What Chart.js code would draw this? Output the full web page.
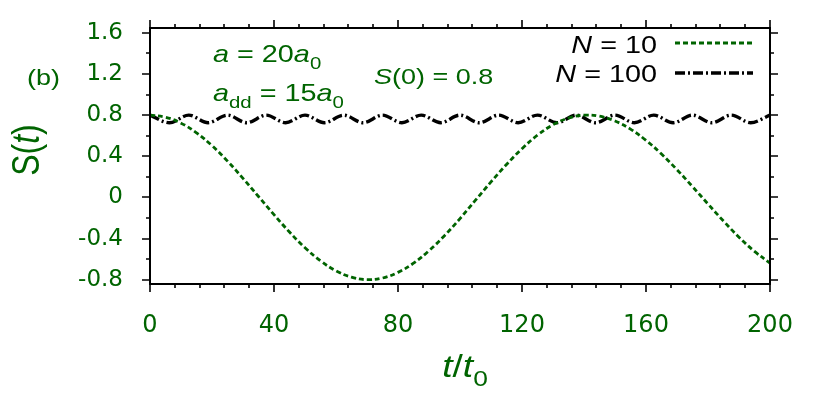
<!DOCTYPE html>
<html><head><meta charset="utf-8">
<script src="https://cdn.jsdelivr.net/npm/chart.js@4.4.0/dist/chart.umd.min.js"></script>
<style>html,body{margin:0;padding:0;background:#fff}#wrap{width:830px;height:415px}</style>
</head><body><div id="wrap"><canvas id="c" width="830" height="415"></canvas></div>
<script>
// ---- data ----
const tN10 = [0,5,10,15,20,25,30,35,40,45,50,55,60,65,70,75,80,85,90,95,100,105,110,115,120,125,130,135,140,145,150,155,160,165,170,175,180,185,190,195,200];
const sN10 = [0.800,0.780,0.722,0.628,0.503,0.353,0.185,0.009,-0.168,-0.337,-0.489,-0.617,-0.714,-0.775,-0.800,-0.784,-0.729,-0.640,-0.518,-0.372,-0.206,-0.027,0.151,0.320,0.474,0.605,0.706,0.771,0.799,0.789,0.743,0.664,0.555,0.422,0.269,0.105,-0.064,-0.230,-0.387,-0.525,-0.639];
const tN100 = [0,6.25,12.5,18.75,25,31.25,37.5,43.75,50,56.25,62.5,68.75,75,81.25,87.5,93.75,100,106.25,112.5,118.75,125,131.25,137.5,143.75,150,156.25,162.5,168.75,175,181.25,187.5,193.75,200];
const sN100 = [0.800,0.726,0.800,0.726,0.800,0.726,0.800,0.726,0.800,0.726,0.800,0.726,0.800,0.726,0.800,0.726,0.800,0.726,0.800,0.726,0.800,0.726,0.800,0.726,0.800,0.726,0.800,0.726,0.800,0.726,0.800,0.726,0.800];
const xTicks = [0,40,80,120,160,200];
const yTicks = [-0.8,-0.4,0,0.4,0.8,1.2,1.6];
const yTickLabels = ['-0.8','-0.4','0','0.4','0.8','1.2','1.6'];
const seriesNames = ['N = 10','N = 100'];

const GREEN = '#006400';
const FONT = '"Liberation Sans", Arial, Helvetica, sans-serif';
const TICKFONT = '"DejaVu Sans", sans-serif';
const SX = 1.2; // horizontal stretch of the reference lettering

function runs(ctx, x, y, parts, size, color, align) {
  const fontFor = p => (p.it ? 'italic ' : '') + (p.sub ? Math.round(size*0.72) : size) + 'px ' + FONT;
  let w = 0;
  parts.forEach(p => { ctx.font = fontFor(p); w += ctx.measureText(p.t).width; });
  let cx = align === 'right' ? -w : (align === 'center' ? -w/2 : 0);
  ctx.save();
  ctx.translate(x, y);
  ctx.scale(SX, 1);
  ctx.fillStyle = color;
  ctx.textBaseline = 'alphabetic';
  ctx.textAlign = 'left';
  parts.forEach(p => {
    ctx.font = fontFor(p);
    ctx.fillText(p.t, cx, (p.sub ? size*0.3 : 0));
    cx += ctx.measureText(p.t).width;
  });
  ctx.restore();
}

const decor = {
  id: 'decor',
  afterDraw(chart) {
    const ctx = chart.ctx, a = chart.chartArea;
    const xs = chart.scales.x, ys = chart.scales.y;
    ctx.save();
    ctx.strokeStyle = '#000';
    ctx.lineWidth = 2;
    ctx.strokeRect(a.left, a.top, a.right - a.left, a.bottom - a.top);
    ctx.lineWidth = 1.6;
    ctx.beginPath();
    for (let v = 0; v <= 200.001; v += 8) {
      const px = Math.round(xs.getPixelForValue(v));
      const major = xTicks.includes(v);
      const L = major ? 8 : 4;
      ctx.moveTo(px, a.bottom); ctx.lineTo(px, a.bottom + L);
      ctx.moveTo(px, a.top); ctx.lineTo(px, a.top - L);
    }
    for (let k = -4; k <= 8; k++) {
      const v = k * 0.2;
      const py = Math.round(ys.getPixelForValue(v));
      const major = (k % 2 === 0);
      const L = major ? 8 : 4;
      ctx.moveTo(a.left, py); ctx.lineTo(a.left - L, py);
      ctx.moveTo(a.right, py); ctx.lineTo(a.right + L, py);
    }
    ctx.stroke();

    // axis titles
    ctx.save();
    ctx.translate(26, 150);
    ctx.scale(SX, 1);
    ctx.rotate(-Math.PI/2);
    ctx.scale(1/SX, 1);
    runs(ctx, 0, 11, [{t:'S'},{t:'('},{t:'t',it:true},{t:')'}], 32, GREEN, 'center');
    ctx.restore();
    runs(ctx, 465, 377, [{t:'t',it:true},{t:'/'},{t:'t',it:true},{t:'0',sub:true}], 31, GREEN, 'center');

    // annotations
    runs(ctx, 27, 85, [{t:'(b)'}], 22.5, GREEN, 'left');
    runs(ctx, 213, 62, [{t:'a',it:true},{t:' = 20'},{t:'a',it:true},{t:'0',sub:true}], 24, GREEN, 'left');
    runs(ctx, 213, 101, [{t:'a',it:true},{t:'dd',sub:true},{t:' = 15'},{t:'a',it:true},{t:'0',sub:true}], 24, GREEN, 'left');
    runs(ctx, 374, 84, [{t:'S',it:true},{t:'(0) = 0.8'}], 22.5, GREEN, 'left');

    // legend
    const ds = chart.data.datasets;
    const legY = [43, 73];
    runs(ctx, 657, 53, [{t:'N',it:true},{t:' = 10'}], 24, '#000', 'right');
    runs(ctx, 657, 82, [{t:'N',it:true},{t:' = 100'}], 24, '#000', 'right');
    ds.forEach((d, i) => {
      ctx.beginPath();
      ctx.setLineDash(d.borderDash);
      ctx.strokeStyle = d.borderColor;
      ctx.lineWidth = d.borderWidth;
      ctx.moveTo(675, legY[i]); ctx.lineTo(753, legY[i]);
      ctx.stroke();
    });
    ctx.restore();
  }
};

new Chart(document.getElementById('c'), {
  type: 'line',
  data: {
    datasets: [
      { label: seriesNames[0], data: tN10.map((t,i)=>({x:t,y:sN10[i]})), borderColor: GREEN, borderWidth: 2.8, borderDash: [5,3], pointRadius: 0, tension: 0.4, fill: false },
      { label: seriesNames[1], data: tN100.map((t,i)=>({x:t,y:sN100[i]})), borderColor: '#000', borderWidth: 3.4, borderDash: [10,3,2,3], pointRadius: 0, cubicInterpolationMode: 'monotone', fill: false }
    ]
  },
  options: {
    responsive: false, animation: false, devicePixelRatio: 1,
    layout: { padding: { top: 28, right: 60, left: 0, bottom: 0 } },
    plugins: { legend: { display: false }, tooltip: { enabled: false } },
    scales: {
      x: {
        type: 'linear', min: 0, max: 200,
        afterBuildTicks: s => { s.ticks = xTicks.map(v => ({value: v})); },
        afterFit: s => { s.height = 131; s.paddingLeft = 0; s.paddingRight = 0; },
        grid: { display: false, drawTicks: false, tickLength: 0 },
        border: { display: false },
        ticks: { color: GREEN, font: { family: TICKFONT, size: 24 }, padding: 27, maxRotation: 0, autoSkip: false, callback: v => String(v) }
      },
      y: {
        type: 'linear', min: -0.842, max: 1.647,
        afterBuildTicks: s => { s.ticks = yTicks.map(v => ({value: v})); },
        afterFit: s => { s.width = 150; s.paddingTop = 0; s.paddingBottom = 0; },
        grid: { display: false, drawTicks: false, tickLength: 0 },
        border: { display: false },
        ticks: { color: GREEN, font: { family: TICKFONT, size: 23 }, padding: 27, autoSkip: false,
          callback: (v) => { const i = yTicks.findIndex(t => Math.abs(t - v) < 1e-6); return i >= 0 ? yTickLabels[i] : ''; } }
      }
    }
  },
  plugins: [decor]
});
</script>
</body></html>
